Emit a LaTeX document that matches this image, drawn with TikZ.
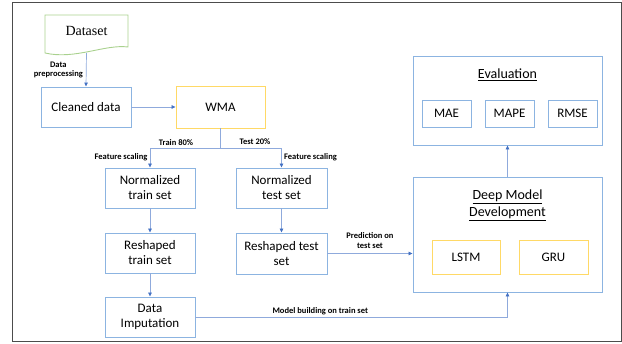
\documentclass[tikz,border=0pt]{standalone}
\usepackage{fontspec}
\setmainfont{Carlito}
\newfontfamily\dsfont{Liberation Serif}
\usetikzlibrary{positioning, arrows.meta}

\definecolor{boxblue}{RGB}{140,180,225}
\definecolor{boxyellow}{RGB}{255,217,102}
\definecolor{boxgreen}{RGB}{169,209,142}
\definecolor{linkblue}{RGB}{143,170,220}
\definecolor{tipblue}{RGB}{68,114,196}

\begin{document}
\begin{tikzpicture}[x=1pt, y=-1pt,
  box/.style={draw=boxblue, line width=0.9pt, rectangle, align=center,
    font=\fontsize{13}{15}\selectfont, inner sep=1pt},
  ybox/.style={box, draw=boxyellow},
  link/.style={draw=linkblue, line width=0.7pt},
  arrow/.style={link, -{Triangle[length=4pt, width=3.5pt, color=tipblue]}},
  lbl/.style={font=\fontsize{8.5}{9.5}\selectfont\bfseries, align=center, inner sep=1pt}]
\useasboundingbox (0,0) rectangle (622,344);
\draw[black!70, line width=0.9pt] (12.5,2.5) rectangle (621,341.5);

% input side
\node (dataset) [minimum width=83pt, minimum height=32pt, font=\dsfont\fontsize{14}{16}\selectfont]
  at (86.5,31) {Dataset};
\draw[draw=boxgreen, line width=0.9pt] (45,15) -- (128,15) -- (128,47)
  .. controls (105,44) and (75,60) .. (45,53) -- cycle;
\node (clean) [box, minimum width=90pt, minimum height=40pt] at (86,107) {Cleaned data};
\node (wma) [ybox, minimum width=89pt, minimum height=42pt] at (220.5,107) {WMA};

% train / test branches
\node (normtr) [box, minimum width=90pt, minimum height=40pt] at (150,188) {Normalized\\train set};
\node (normte) [box, minimum width=91pt, minimum height=40pt] at (281.5,188) {Normalized\\test set};
\node (reshtr) [box, minimum width=90pt, minimum height=40pt] at (150,253) {Reshaped\\train set};
\node (reshte) [box, minimum width=91pt, minimum height=41pt] at (281.5,253.5) {Reshaped test\\set};
\node (imput) [box, minimum width=90pt, minimum height=40pt] at (150,317) {Data\\Imputation};

% model and evaluation
\node (deep) [box, minimum width=189pt, minimum height=115pt] at (507.5,234.5) {};
\node (deeptitle) [font=\fontsize{14}{17}\selectfont, align=center] at (507.5,205)
  {\underline{Deep Model}\\\underline{Development}};
\node (lstm) [ybox, minimum width=68pt, minimum height=34pt] at (466,257) {LSTM};
\node (gru) [ybox, minimum width=69pt, minimum height=34pt] at (553.5,257) {GRU};

\node (eval) [box, minimum width=189pt, minimum height=89pt] at (507.5,100.5) {};
\node (evaltitle) [font=\fontsize{14}{17}\selectfont] at (507.5,75) {\underline{Evaluation}};
\node (mae) [box, minimum width=49pt, minimum height=27pt] at (446.5,113.5) {MAE};
\node (mape) [box, minimum width=49pt, minimum height=27pt] at (509.5,113.5) {MAPE};
\node (rmse) [box, minimum width=49pt, minimum height=27pt] at (572.5,113.5) {RMSE};

% connectors
\draw[arrow] (86.5,53) -- (clean.north)
  node[lbl, pos=0.5, left=2pt] {Data\\preprocessing};
\draw[arrow] (clean) -- (wma);
\draw[link, line width=1.2pt] (wma.south) -- ++(0,20) coordinate (split);
\draw[arrow] (split) -| (normtr.north);
\draw[arrow] (split) -| (normte.north);
\node (trainlbl) [lbl] at (176,143) {Train 80\%};
\node (testlbl) [lbl] at (255,142) {Test 20\%};
\node (fsleft) [lbl] at (121,157) {Feature scaling};
\node (fsright) [lbl] at (310.5,157) {Feature scaling};
\draw[arrow] (normtr) -- (reshtr);
\draw[arrow] (normte) -- (reshte);
\draw[arrow] (reshtr) -- (imput);
\draw[arrow] (reshte) -- (deep.west |- reshte)
  node[lbl, midway, above=4pt] {Prediction on\\test set};
\draw[arrow] (imput) -| (deep.south)
  node[lbl, pos=0.2, above=1pt] {Model building on train set};
\draw[arrow] (deep) ++(0,-57.5) -- (eval.south);
\end{tikzpicture}
\end{document}
